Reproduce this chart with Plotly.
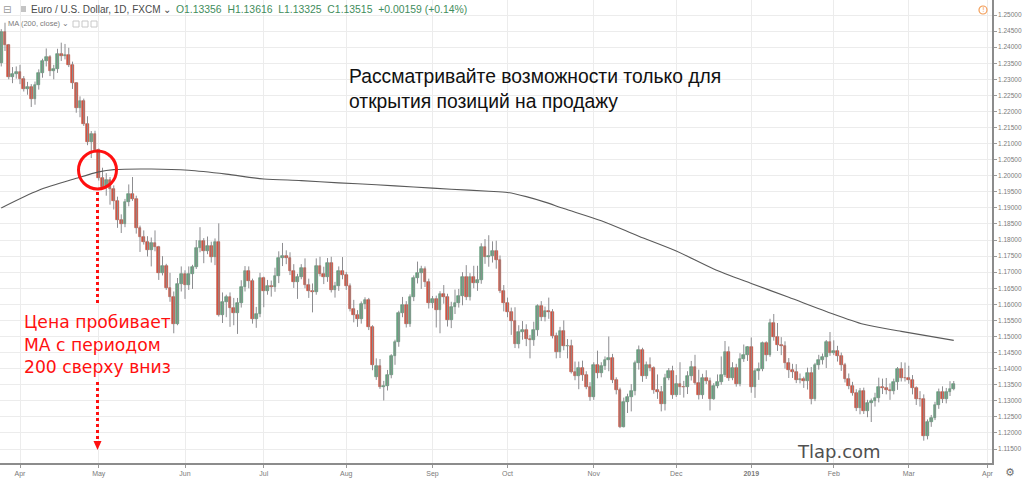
import pandas as pd
import plotly.graph_objects as go

# ---------------- data ----------------
start_date = "2018-03-26"
calendar_end = "2019-04-01"
holidays = ["2018-12-25", "2019-01-01"]

open_ = [
    1.2352, 1.2446, 1.2406, 1.2307, 1.2317, 1.2324, 1.2302, 1.2270, 1.2276, 1.2238,
    1.2281, 1.2320, 1.2357, 1.2369, 1.2326, 1.2332, 1.2380, 1.2373, 1.2377, 1.2346,
    1.2287, 1.2212, 1.2232, 1.2162, 1.2104, 1.2130, 1.2079, 1.1993, 1.1965, 1.1987,
    1.1960, 1.1921, 1.1862, 1.1850, 1.1918, 1.1942, 1.1928, 1.1837, 1.1808, 1.1795,
    1.1770, 1.1792, 1.1779, 1.1698, 1.1720, 1.1652, 1.1623, 1.1538, 1.1664, 1.1693,
    1.1660, 1.1695, 1.1716, 1.1775, 1.1797, 1.1767, 1.1780, 1.1747, 1.1794, 1.1567,
    1.1607, 1.1622, 1.1588, 1.1572, 1.1605, 1.1655, 1.1703, 1.1673, 1.1553, 1.1570,
    1.1683, 1.1640, 1.1658, 1.1655, 1.1688, 1.1743, 1.1750, 1.1745, 1.1705, 1.1670,
    1.1684, 1.1713, 1.1660, 1.1641, 1.1639, 1.1718, 1.1695, 1.1686, 1.1729, 1.1645,
    1.1656, 1.1705, 1.1692, 1.1658, 1.1587, 1.1567, 1.1554, 1.1601, 1.1613, 1.1529,
    1.1375, 1.1409, 1.1344, 1.1345, 1.1380, 1.1438, 1.1482, 1.1572, 1.1598, 1.1538,
    1.1622, 1.1681, 1.1697, 1.1709, 1.1670, 1.1603, 1.1618, 1.1582, 1.1631, 1.1624,
    1.1551, 1.1592, 1.1605, 1.1627, 1.1686, 1.1624, 1.1685, 1.1667, 1.1676, 1.1779,
    1.1747, 1.1750, 1.1766, 1.1738, 1.1643, 1.1605, 1.1577, 1.1549, 1.1478, 1.1513,
    1.1520, 1.1492, 1.1490, 1.1520, 1.1595, 1.1560, 1.1580, 1.1577, 1.1501, 1.1453,
    1.1516, 1.1469, 1.1470, 1.1391, 1.1376, 1.1402, 1.1381, 1.1343, 1.1313, 1.1412,
    1.1388, 1.1409, 1.1428, 1.1434, 1.1366, 1.1334, 1.1220, 1.1297, 1.1311, 1.1330,
    1.1417, 1.1459, 1.1376, 1.1412, 1.1401, 1.1335, 1.1327, 1.1289, 1.1370, 1.1394,
    1.1317, 1.1352, 1.1343, 1.1342, 1.1376, 1.1406, 1.1356, 1.1317, 1.1370, 1.1362,
    1.1305, 1.1347, 1.1360, 1.1381, 1.1451, 1.1372, 1.1403, 1.1352, 1.1430, 1.1443,
    1.1467, 1.1343, 1.1394, 1.1398, 1.1479, 1.1443, 1.1543, 1.1500, 1.1474, 1.1470,
    1.1417, 1.1395, 1.1389, 1.1365, 1.1367, 1.1362, 1.1385, 1.1305, 1.1410, 1.1428,
    1.1436, 1.1483, 1.1450, 1.1456, 1.1440, 1.1411, 1.1368, 1.1345, 1.1324, 1.1279,
    1.1330, 1.1269, 1.1294, 1.1299, 1.1310, 1.1343, 1.1339, 1.1334, 1.1330, 1.1358,
    1.1398, 1.1372, 1.1370, 1.1364, 1.1339, 1.1307, 1.1306, 1.1192, 1.1234, 1.1247,
    1.1287, 1.1328, 1.1306, 1.1326, 1.13356,
]
high = [
    1.2456, 1.2476, 1.2410, 1.2338, 1.2340, 1.2345, 1.2310, 1.2292, 1.2285, 1.2293,
    1.2331, 1.2364, 1.2396, 1.2375, 1.2345, 1.2395, 1.2414, 1.2410, 1.2398, 1.2355,
    1.2291, 1.2247, 1.2240, 1.2185, 1.2139, 1.2140, 1.2085, 1.2025, 1.2008, 1.1996,
    1.1970, 1.1935, 1.1880, 1.1928, 1.1973, 1.1996, 1.1938, 1.1845, 1.1830, 1.1812,
    1.1808, 1.1830, 1.1782, 1.1750, 1.1726, 1.1698, 1.1640, 1.1682, 1.1718, 1.1706,
    1.1718, 1.1723, 1.1800, 1.1840, 1.1806, 1.1811, 1.1795, 1.1805, 1.1852, 1.1637,
    1.1630, 1.1637, 1.1620, 1.1620, 1.1675, 1.1719, 1.1718, 1.1680, 1.1592, 1.1698,
    1.1686, 1.1676, 1.1674, 1.1714, 1.1765, 1.1791, 1.1768, 1.1762, 1.1725, 1.1695,
    1.1725, 1.1743, 1.1680, 1.1665, 1.1743, 1.1748, 1.1717, 1.1744, 1.1748, 1.1670,
    1.1718, 1.1747, 1.1701, 1.1665, 1.1614, 1.1582, 1.1609, 1.1622, 1.1620, 1.1535,
    1.1432, 1.1430, 1.1362, 1.1396, 1.1445, 1.1490, 1.1580, 1.1623, 1.1610, 1.1631,
    1.1690, 1.1733, 1.1720, 1.1718, 1.1680, 1.1626, 1.1627, 1.1641, 1.1660, 1.1633,
    1.1608, 1.1646, 1.1648, 1.1700, 1.1722, 1.1697, 1.1720, 1.1720, 1.1790, 1.1803,
    1.1815, 1.1796, 1.1798, 1.1752, 1.1660, 1.1621, 1.1590, 1.1591, 1.1535, 1.1548,
    1.1538, 1.1505, 1.1546, 1.1600, 1.1610, 1.1593, 1.1621, 1.1585, 1.1512, 1.1530,
    1.1550, 1.1492, 1.1490, 1.1422, 1.1422, 1.1425, 1.1392, 1.1358, 1.1420, 1.1456,
    1.1420, 1.1438, 1.1500, 1.1446, 1.1373, 1.1341, 1.1310, 1.1322, 1.1352, 1.1425,
    1.1472, 1.1465, 1.1422, 1.1435, 1.1407, 1.1382, 1.1346, 1.1384, 1.1402, 1.1409,
    1.1380, 1.1420, 1.1362, 1.1392, 1.1424, 1.1443, 1.1397, 1.1384, 1.1395, 1.1372,
    1.1355, 1.1382, 1.1438, 1.1486, 1.1469, 1.1420, 1.1415, 1.1448, 1.1475, 1.1470,
    1.1497, 1.1401, 1.1419, 1.1484, 1.1485, 1.1555, 1.1570, 1.1542, 1.1498, 1.1485,
    1.1433, 1.1415, 1.1414, 1.1385, 1.1375, 1.1403, 1.1405, 1.1418, 1.1443, 1.1447,
    1.1489, 1.1514, 1.1488, 1.1471, 1.1450, 1.1418, 1.1385, 1.1359, 1.1336, 1.1340,
    1.1341, 1.1303, 1.1307, 1.1325, 1.1372, 1.1369, 1.1371, 1.1354, 1.1369, 1.1405,
    1.1420, 1.1419, 1.1409, 1.1380, 1.1345, 1.1330, 1.1320, 1.1242, 1.1256, 1.1297,
    1.1338, 1.1345, 1.1340, 1.1361, 1.13616,
]
low = [
    1.2340, 1.2388, 1.2300, 1.2288, 1.2302, 1.2285, 1.2262, 1.2252, 1.2214, 1.2221,
    1.2268, 1.2305, 1.2340, 1.2310, 1.2300, 1.2320, 1.2357, 1.2362, 1.2338, 1.2270,
    1.2196, 1.2182, 1.2155, 1.2095, 1.2055, 1.2073, 1.1985, 1.1960, 1.1938, 1.1910,
    1.1895, 1.1838, 1.1822, 1.1840, 1.1905, 1.1922, 1.1820, 1.1763, 1.1786, 1.1749,
    1.1718, 1.1765, 1.1676, 1.1690, 1.1645, 1.1608, 1.1510, 1.1535, 1.1640, 1.1617,
    1.1645, 1.1648, 1.1710, 1.1762, 1.1728, 1.1756, 1.1730, 1.1722, 1.1562, 1.1542,
    1.1560, 1.1530, 1.1535, 1.1508, 1.1590, 1.1640, 1.1650, 1.1540, 1.1527, 1.1560,
    1.1591, 1.1630, 1.1624, 1.1639, 1.1666, 1.1719, 1.1725, 1.1691, 1.1651, 1.1617,
    1.1678, 1.1650, 1.1620, 1.1575, 1.1630, 1.1687, 1.1663, 1.1670, 1.1637, 1.1621,
    1.1642, 1.1678, 1.1645, 1.1578, 1.1544, 1.1530, 1.1540, 1.1585, 1.1520, 1.1395,
    1.1365, 1.1337, 1.1301, 1.1332, 1.1370, 1.1412, 1.1468, 1.1560, 1.1528, 1.1530,
    1.1610, 1.1665, 1.1648, 1.1654, 1.1587, 1.1588, 1.1528, 1.1510, 1.1602, 1.1531,
    1.1526, 1.1570, 1.1590, 1.1597, 1.1613, 1.1612, 1.1650, 1.1642, 1.1664, 1.1726,
    1.1717, 1.1730, 1.1711, 1.1635, 1.1578, 1.1560, 1.1505, 1.1464, 1.1463, 1.1490,
    1.1470, 1.1432, 1.1471, 1.1502, 1.1548, 1.1547, 1.1555, 1.1494, 1.1432, 1.1433,
    1.1457, 1.1432, 1.1385, 1.1364, 1.1336, 1.1362, 1.1336, 1.1300, 1.1303, 1.1370,
    1.1373, 1.1396, 1.1392, 1.1355, 1.1320, 1.1215, 1.1217, 1.1262, 1.1267, 1.1317,
    1.1397, 1.1359, 1.1368, 1.1392, 1.1322, 1.1306, 1.1267, 1.1270, 1.1364, 1.1306,
    1.1312, 1.1318, 1.1310, 1.1321, 1.1363, 1.1350, 1.1304, 1.1306, 1.1352, 1.1270,
    1.1303, 1.1339, 1.1350, 1.1374, 1.1362, 1.1364, 1.1344, 1.1345, 1.1421, 1.1424,
    1.1325, 1.1309, 1.1365, 1.1392, 1.1423, 1.1437, 1.1487, 1.1455, 1.1442, 1.1400,
    1.1371, 1.1371, 1.1355, 1.1354, 1.1340, 1.1335, 1.1289, 1.1299, 1.1397, 1.1413,
    1.1402, 1.1440, 1.1442, 1.1422, 1.1393, 1.1357, 1.1336, 1.1316, 1.1268, 1.1258,
    1.1259, 1.1249, 1.1234, 1.1282, 1.1295, 1.1321, 1.1320, 1.1303, 1.1320, 1.1334,
    1.1360, 1.1360, 1.1353, 1.1320, 1.1287, 1.1282, 1.1176, 1.1180, 1.1219, 1.1240,
    1.1275, 1.1293, 1.1292, 1.1315, 1.13325,
]
close = [
    1.2446, 1.2406, 1.2307, 1.2317, 1.2324, 1.2302, 1.2270, 1.2276, 1.2238, 1.2281,
    1.2320, 1.2357, 1.2369, 1.2326, 1.2332, 1.2380, 1.2373, 1.2377, 1.2346, 1.2287,
    1.2212, 1.2232, 1.2162, 1.2104, 1.2130, 1.2079, 1.1993, 1.1965, 1.1987, 1.1960,
    1.1921, 1.1862, 1.1850, 1.1918, 1.1942, 1.1928, 1.1837, 1.1808, 1.1795, 1.1770,
    1.1792, 1.1779, 1.1698, 1.1720, 1.1652, 1.1623, 1.1538, 1.1664, 1.1693, 1.1660,
    1.1695, 1.1716, 1.1775, 1.1797, 1.1767, 1.1780, 1.1747, 1.1794, 1.1567, 1.1607,
    1.1622, 1.1588, 1.1572, 1.1605, 1.1655, 1.1703, 1.1673, 1.1553, 1.1570, 1.1683,
    1.1640, 1.1658, 1.1655, 1.1688, 1.1743, 1.1750, 1.1745, 1.1705, 1.1670, 1.1684,
    1.1713, 1.1660, 1.1641, 1.1639, 1.1718, 1.1695, 1.1686, 1.1729, 1.1645, 1.1656,
    1.1705, 1.1692, 1.1658, 1.1587, 1.1567, 1.1554, 1.1601, 1.1613, 1.1529, 1.1411,
    1.1409, 1.1344, 1.1345, 1.1380, 1.1438, 1.1482, 1.1572, 1.1598, 1.1538, 1.1622,
    1.1681, 1.1697, 1.1709, 1.1670, 1.1603, 1.1618, 1.1582, 1.1631, 1.1624, 1.1551,
    1.1592, 1.1605, 1.1627, 1.1686, 1.1624, 1.1685, 1.1667, 1.1676, 1.1779, 1.1747,
    1.1750, 1.1766, 1.1738, 1.1643, 1.1605, 1.1577, 1.1549, 1.1478, 1.1513, 1.1520,
    1.1492, 1.1490, 1.1520, 1.1595, 1.1560, 1.1580, 1.1577, 1.1501, 1.1453, 1.1516,
    1.1469, 1.1470, 1.1391, 1.1376, 1.1402, 1.1381, 1.1343, 1.1313, 1.1412, 1.1388,
    1.1409, 1.1428, 1.1434, 1.1366, 1.1334, 1.1220, 1.1297, 1.1311, 1.1330, 1.1417,
    1.1459, 1.1376, 1.1412, 1.1401, 1.1335, 1.1327, 1.1289, 1.1370, 1.1394, 1.1317,
    1.1352, 1.1343, 1.1342, 1.1376, 1.1406, 1.1356, 1.1317, 1.1370, 1.1362, 1.1305,
    1.1347, 1.1360, 1.1381, 1.1451, 1.1372, 1.1403, 1.1352, 1.1430, 1.1443, 1.1467,
    1.1343, 1.1394, 1.1398, 1.1479, 1.1443, 1.1543, 1.1500, 1.1474, 1.1470, 1.1417,
    1.1395, 1.1389, 1.1365, 1.1367, 1.1362, 1.1385, 1.1305, 1.1410, 1.1428, 1.1436,
    1.1483, 1.1450, 1.1456, 1.1440, 1.1411, 1.1368, 1.1345, 1.1324, 1.1279, 1.1330,
    1.1269, 1.1294, 1.1299, 1.1310, 1.1343, 1.1339, 1.1334, 1.1330, 1.1358, 1.1398,
    1.1372, 1.1370, 1.1364, 1.1339, 1.1307, 1.1306, 1.1192, 1.1234, 1.1247, 1.1287,
    1.1328, 1.1306, 1.1326, 1.1336, 1.13515,
]

# MA(200, close), at these bar numbers
ma_bar = [0, 10, 20, 26, 30, 40, 50, 60, 70, 80, 90, 100, 110, 120, 130, 135,
          140, 145, 150, 160, 170, 180, 190, 200, 210, 220, 230, 240, 254]
ma_value = [1.1900, 1.1955, 1.1992, 1.2012, 1.2019, 1.2021, 1.2017, 1.2005,
            1.1990, 1.1985, 1.1978, 1.1972, 1.1965, 1.1958, 1.1952, 1.1948,
            1.1935, 1.1918, 1.1898, 1.1860, 1.1812, 1.1766, 1.1710, 1.1665,
            1.1622, 1.1578, 1.1538, 1.1516, 1.1488]

tick_labels = ["Apr", "May", "Jun", "Jul", "Aug", "Sep", "Oct", "Nov", "Dec",
               "<b>2019</b>", "Feb", "Mar", "Apr"]

# ---------------- calendar (trading days) ----------------
cal = pd.bdate_range(start_date, calendar_end)
cal = cal[~cal.isin(pd.to_datetime(holidays))]
n = len(close)
bars = list(range(n))
dates = [d.strftime("%Y-%m-%d") for d in cal[:n]]
tick_bars = [i for i in range(1, len(cal)) if cal[i].month != cal[i - 1].month]

# ---------------- figure ----------------
UP_FILL, UP_LINE = "#6ba583", "#4e8b67"
DN_FILL, DN_LINE = "#d75442", "#b9412f"
WICK = "#8d8d90"

wx, wy = [], []
for i in bars:
    wx += [i, i, None]
    wy += [low[i], high[i], None]

body_base = [min(o, c) for o, c in zip(open_, close)]
body_len = [abs(c - o) for o, c in zip(open_, close)]
fill = [UP_FILL if c >= o else DN_FILL for o, c in zip(open_, close)]
edge = [UP_LINE if c >= o else DN_LINE for o, c in zip(open_, close)]

fig = go.Figure()
fig.add_trace(go.Scatter(x=wx, y=wy, mode="lines", line=dict(color=WICK, width=1),
                         hoverinfo="skip", showlegend=False))
fig.add_trace(go.Bar(x=bars, y=body_len, base=body_base, width=0.68,
                     marker=dict(color=fill, line=dict(color=edge, width=0.6)),
                     customdata=list(zip(dates, open_, high, low, close)),
                     hovertemplate="%{customdata[0]}<br>O %{customdata[1]:.5f}<br>H %{customdata[2]:.5f}"
                                   "<br>L %{customdata[3]:.5f}<br>C %{customdata[4]:.5f}<extra></extra>",
                     showlegend=False))
fig.add_trace(go.Scatter(x=ma_bar, y=ma_value, mode="lines",
                         line=dict(color="#5a5a5a", width=1.1, shape="spline", smoothing=0.8),
                         hoverinfo="skip", showlegend=False))

PW, PH = 992, 463


def px(x):
    return x / PW


def py(y):
    return 1 - y / PH


ann = []


def text(x, y, s, size, color, family="Liberation Sans", anchor="left"):
    ann.append(dict(x=px(x), y=py(y), xref="paper", yref="paper", text=s, showarrow=False,
                    xanchor=anchor, yanchor="middle",
                    font=dict(size=size, color=color, family=family)))


# header
text(1, 9, "⊟", 10, "#9a9a9a", "DejaVu Sans")
text(29, 9, "Euro / U.S. Dollar, 1D, FXCM ⌄", 10, "#4a4a4a")
text(174, 9, "O1.13356  H1.13616  L1.13325  C1.13515  +0.00159 (+0.14%)", 10.4, "#3f8d5c")
text(6, 24, "MA (200, close) ⌄", 7.5, "#7a7a7a")
# main captions
text(347, 77, "Рассматривайте возможности только для", 19.3, "#111111")
text(347, 101, "открытия позиций на продажу", 19.3, "#111111")
text(22, 322, "Цена пробивает", 17.2, "#ff1010", "DejaVu Sans")
text(22, 345, "МА с периодом", 17.2, "#ff1010", "DejaVu Sans")
text(22, 367, "200 сверху вниз", 17.2, "#ff1010", "DejaVu Sans")
text(795, 451, "Tlap.com", 18, "#505050", "DejaVu Sans")
# icons
text(983, 10, "!", 7, "#f39c55", "DejaVu Sans", anchor="center")
text(1010, 472, "⚙", 11, "#707070", "DejaVu Sans", anchor="center")

shapes = []
# flag icon + MA legend buttons
shapes.append(dict(type="rect", xref="paper", yref="paper", x0=px(21), x1=px(26), y0=py(12), y1=py(6),
                   line=dict(width=0), fillcolor="#c4c4c4"))
for x0 in (73, 82, 91):
    shapes.append(dict(type="rect", xref="paper", yref="paper", x0=px(x0), x1=px(x0 + 6),
                       y0=py(27), y1=py(21), line=dict(width=1, color="#c8c8c8"),
                       fillcolor="rgba(0,0,0,0)"))
# orange info circle
shapes.append(dict(type="circle", xref="paper", yref="paper", x0=px(979), x1=px(987), y0=py(14), y1=py(6),
                   line=dict(width=1.2, color="#f39c55")))
# red circle at the crossing
shapes.append(dict(type="circle", xref="paper", yref="paper", x0=px(78.5), x1=px(116.5),
                   y0=py(189), y1=py(151), line=dict(width=3, color="#ff1010")))
# dotted guide line + arrow head
for y0, y1 in ((192, 306), (382, 440)):
    shapes.append(dict(type="line", xref="paper", yref="paper", x0=px(97.5), x1=px(97.5),
                       y0=py(y0), y1=py(y1), line=dict(width=3, color="#ff1010", dash="3px,3px")))
shapes.append(dict(type="path", xref="paper", yref="paper",
                   path=f"M {px(93.5)},{py(441)} L {px(101.5)},{py(441)} L {px(97.5)},{py(450)} Z",
                   fillcolor="#ff1010", line=dict(width=0)))

fig.update_layout(
    width=1024, height=480,
    margin=dict(l=0, r=32, t=0, b=17),
    paper_bgcolor="white", plot_bgcolor="white",
    showlegend=False, bargap=0,
    annotations=ann, shapes=shapes,
    xaxis=dict(range=[-0.333, 264.2], tickmode="array", tickvals=tick_bars, ticktext=tick_labels,
               showgrid=True, gridcolor="#ececec", gridwidth=1, zeroline=False,
               showline=True, linecolor="#8c8c8c", linewidth=1.5,
               ticks="outside", ticklen=3, tickcolor="#9a9a9a",
               tickfont=dict(size=7, color="#7a7a7a", family="Liberation Sans"), fixedrange=True),
    yaxis=dict(range=[1.11065, 1.25467], side="right", tick0=1.115, dtick=0.005, tickformat=".5f",
               showgrid=True, gridcolor="#ececec", gridwidth=1, zeroline=False,
               showline=True, linecolor="#8c8c8c", linewidth=1.5,
               ticks="outside", ticklen=3, tickcolor="#9a9a9a",
               tickfont=dict(size=6.5, color="#7a7a7a", family="Liberation Sans"), fixedrange=True),
)

assert len(open_) == len(high) == len(low) == len(close) == n

fig.write_html("out.html")
